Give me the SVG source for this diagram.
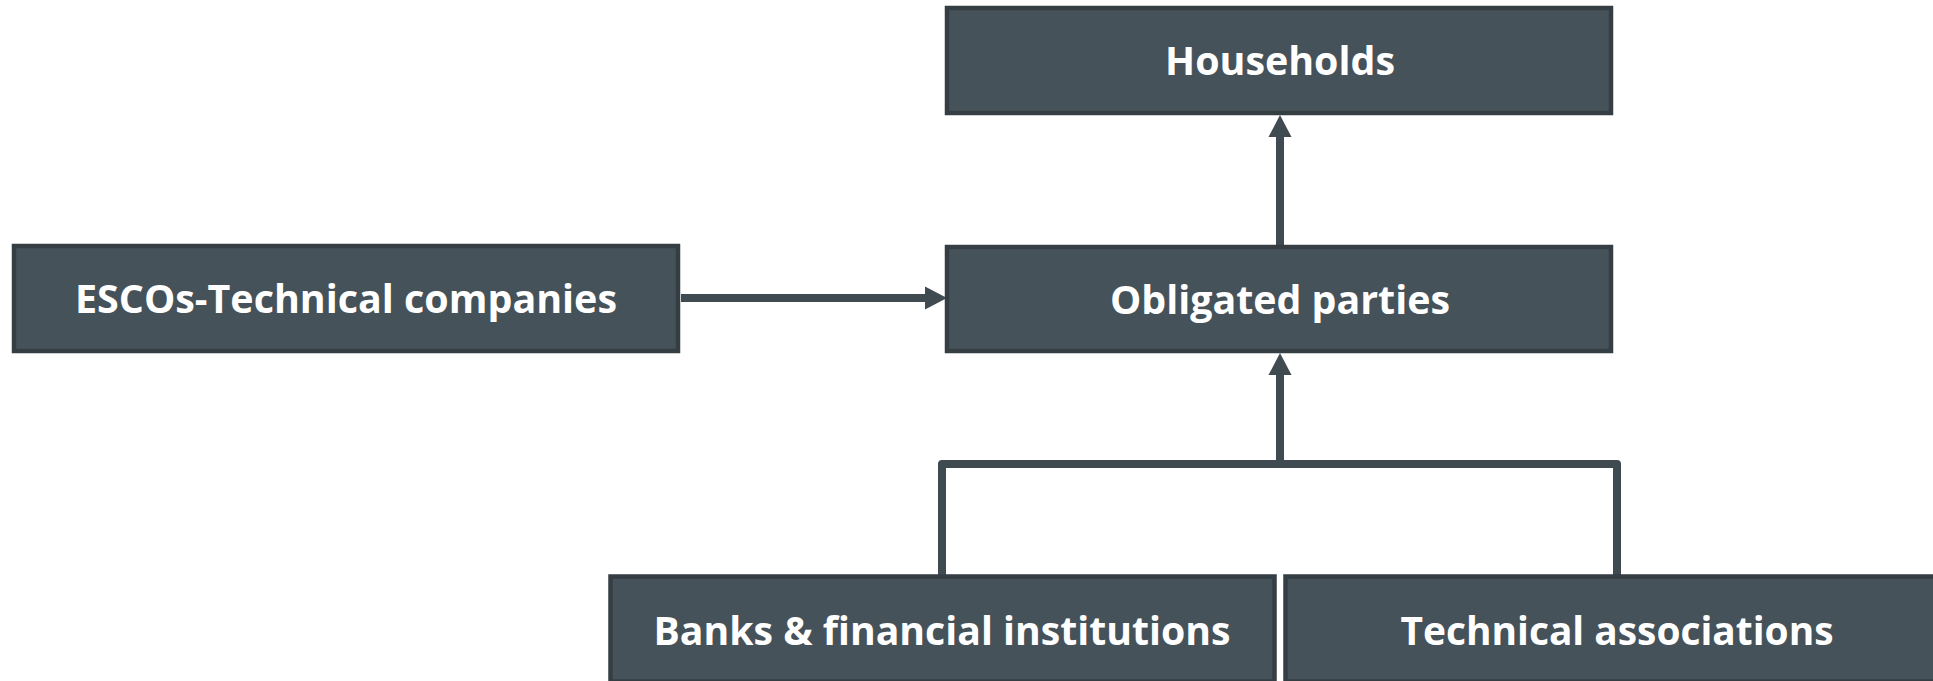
<svg xmlns="http://www.w3.org/2000/svg" width="1933" height="681" viewBox="0 0 1933 681">
  <style>
    .box { fill: #46525a; stroke: #343e43; stroke-width: 4.5; }
    .label { font-family: "Open Sans", "Liberation Sans", sans-serif; font-weight: bold; font-size: 40px; fill: #ffffff; text-anchor: middle; }
    .conn { fill: none; stroke: #3f4a51; stroke-width: 8; stroke-linejoin: round; }
  </style>
  <defs>
    <marker id="head" markerUnits="userSpaceOnUse" markerWidth="22" markerHeight="23" refX="0" refY="11.5" orient="auto" overflow="visible">
      <path d="M0,0 L22,11.5 L0,23 Z" fill="#3f4a51"/>
    </marker>
  </defs>

  <!-- connectors -->
  <g id="connectors">
    <path class="conn" d="M1280,245 V137" marker-end="url(#head)"/>
    <path class="conn" d="M681,298 H925" marker-end="url(#head)"/>
    <path class="conn" d="M942,580 V464 H1617 V580"/>
    <path class="conn" d="M1280,464 V375" marker-end="url(#head)"/>
  </g>

  <g id="households">
    <rect class="box" x="947" y="8" width="664" height="105"/>
    <text class="label" x="1280" y="75" textLength="230" lengthAdjust="spacingAndGlyphs">Households</text>
  </g>

  <g id="obligated-parties">
    <rect class="box" x="947" y="247" width="664" height="104"/>
    <text class="label" x="1280" y="314" textLength="340" lengthAdjust="spacingAndGlyphs">Obligated parties</text>
  </g>

  <g id="escos">
    <rect class="box" x="14" y="246" width="664" height="105"/>
    <text class="label" x="346" y="313" textLength="542" lengthAdjust="spacingAndGlyphs">ESCOs-Technical companies</text>
  </g>

  <g id="banks">
    <rect class="box" x="610.5" y="576.5" width="664" height="105"/>
    <text class="label" x="942" y="645" textLength="577" lengthAdjust="spacingAndGlyphs">Banks &amp; financial institutions</text>
  </g>

  <g id="technical-associations">
    <rect class="box" x="1285.5" y="576.5" width="664" height="105"/>
    <text class="label" x="1617" y="645" textLength="433" lengthAdjust="spacingAndGlyphs">Technical associations</text>
  </g>
</svg>
